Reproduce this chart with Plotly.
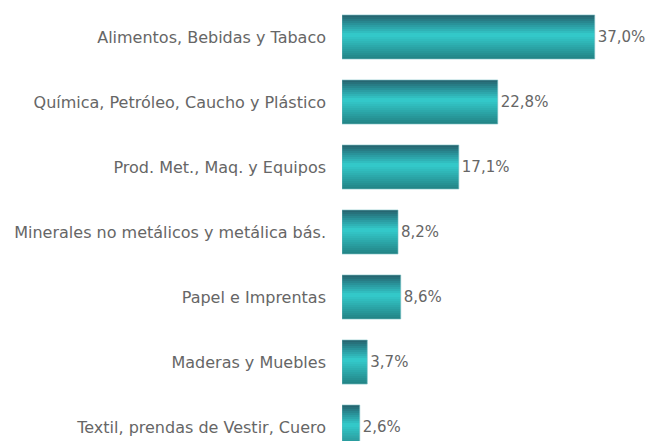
import plotly.graph_objects as go

categories = [
    "Alimentos, Bebidas y Tabaco",
    "Química, Petróleo, Caucho y Plástico",
    "Prod. Met., Maq. y Equipos",
    "Minerales no metálicos y metálica bás.",
    "Papel e Imprentas",
    "Maderas y Muebles",
    "Textil, prendas de Vestir, Cuero",
]
values = [37.0, 22.8, 17.1, 8.2, 8.6, 3.7, 2.6]
value_labels = ["37,0%", "22,8%", "17,1%", "8,2%", "8,6%", "3,7%", "2,6%"]

positions = list(range(len(categories)))

BAR_W = 0.677
N = 22
strip = BAR_W / N


def lerp(c1, c2, t):
    return tuple(int(round(a + (b - a) * t)) for a, b in zip(c1, c2))


stops = [
    (0.0, (38, 96, 108)),
    (0.18, (40, 140, 148)),
    (0.45, (52, 204, 204)),
    (0.7, (44, 170, 172)),
    (1.0, (34, 130, 132)),
]


def grad(t):
    for (t0, c0), (t1, c1) in zip(stops[:-1], stops[1:]):
        if t <= t1:
            return lerp(c0, c1, (t - t0) / (t1 - t0))
    return stops[-1][1]


fig = go.Figure()
for i in range(N):
    t = (i + 0.5) / N
    c = grad(t)
    fig.add_trace(go.Bar(
        x=values, y=positions, orientation="h",
        width=strip * 1.02, offset=-BAR_W / 2 + i * strip,
        marker=dict(color="rgb(%d,%d,%d)" % c, line=dict(width=0)),
        showlegend=False, hoverinfo="skip",
    ))

fig.add_trace(go.Bar(
    x=values, y=positions, orientation="h", width=BAR_W,
    marker=dict(color="rgba(0,0,0,0)", line=dict(color="rgba(120,190,195,0.6)", width=1)),
    text=value_labels, textposition="outside", cliponaxis=False,
    textfont=dict(family="DejaVu Sans", size=15, color="#666666"),
    showlegend=False, hoverinfo="skip",
))

fig.update_layout(
    width=648, height=441,
    margin=dict(l=342, r=0, t=0, b=0),
    barmode="overlay",
    paper_bgcolor="white", plot_bgcolor="white",
    font=dict(family="DejaVu Sans", size=15, color="#666666"),
    xaxis=dict(range=[0, 44.8], visible=False, showgrid=False, zeroline=False),
    yaxis=dict(
        range=[6.215, -0.569], tickmode="array", tickvals=positions,
        ticktext=categories, showgrid=False, zeroline=False, showline=False,
        ticks="", ticklabelstandoff=15, ticklabeloverflow="allow",
        tickfont=dict(family="DejaVu Sans", size=16, color="#666666"),
    ),
)

fig.write_html(
    "out.html",
    config={"displayModeBar": False},
    post_script="document.body.style.margin='0';document.body.style.overflow='hidden';",
)
